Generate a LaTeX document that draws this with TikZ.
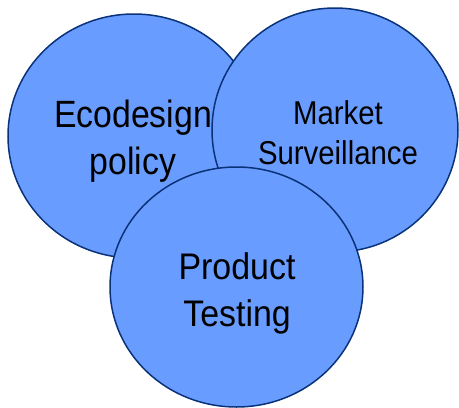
\documentclass[tikz,border=0pt]{standalone}
\usepackage{fontspec}
\setmainfont{Liberation Sans}
\usetikzlibrary{shapes.geometric}
\definecolor{fillblue}{RGB}{105,156,255}
\definecolor{edgeblue}{RGB}{10,50,120}
\tikzset{
  blob/.style={ellipse,draw=edgeblue,fill=fillblue,line width=1.5pt,inner sep=0pt,align=center,text=black},
  lab/.style={align=center,inner sep=0pt,xscale=.89},
}
\begin{document}
\begin{tikzpicture}[x=1pt,y=-1pt]
\useasboundingbox (0,0) rectangle (459,408);
\node[blob,minimum width=252pt,minimum height=244pt] (eco) at (134,136) {};
\node[blob,minimum width=246pt,minimum height=244pt] (mkt) at (335,130) {};
\node[blob,minimum width=253pt,minimum height=240pt] (prod) at (236.5,287) {};
\node[lab,font=\fontsize{38}{47}\selectfont] (ecot) at (133,141) {Ecodesign\\policy};
\node[lab,font=\fontsize{33}{40}\selectfont] (mktt) at (338,132.5) {Market\\Surveillance};
\node[lab,xscale=1.03,font=\fontsize{37}{47}\selectfont] (prodt) at (237,293) {Product\\Testing};
\end{tikzpicture}
\end{document}
